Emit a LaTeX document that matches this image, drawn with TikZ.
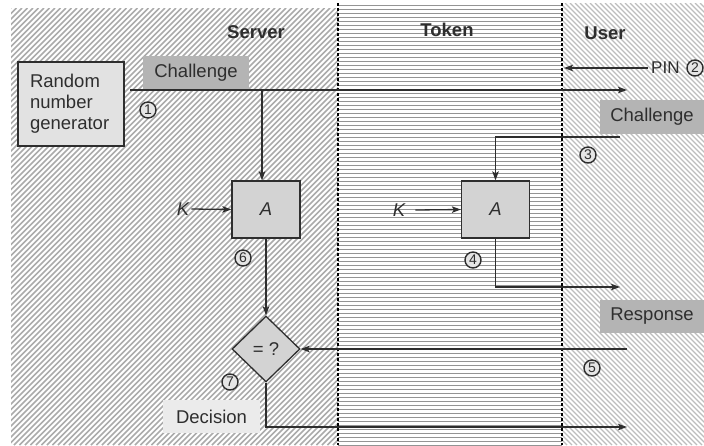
\documentclass[tikz,border=0pt]{standalone}
\usepackage{fontspec}
\setmainfont{Liberation Sans}
\usetikzlibrary{arrows.meta,shapes.geometric}

\definecolor{ink}{HTML}{2E2E2E}
\definecolor{labelgray}{HTML}{B4B4B4}
\definecolor{boxgray}{HTML}{D3D3D3}
\definecolor{rnggray}{HTML}{E2E2E2}
\definecolor{decgray}{HTML}{EBEBEB}

\tikzset{
  lbl/.style={font=\fontsize{18.5}{21}\selectfont, text=ink},
  title/.style={font=\fontsize{18.5}{21}\selectfont\bfseries, text=ink},
  graylabel/.style={lbl, fill=labelgray, inner sep=0pt},
  funcbox/.style={lbl, draw=ink, line width=1.3pt, fill=boxgray, inner sep=0pt,
                  minimum width=68pt, minimum height=57pt, font=\fontsize{18.5}{21}\selectfont\itshape},
  conn/.style={draw=ink, line width=1.3pt, -{Stealth[length=9pt,width=6.5pt,inset=2pt]}},
  num/.style={circle, draw=ink, line width=1.4pt, fill=white!90!black, inner sep=0pt,
              minimum size=16pt, font=\fontsize{14}{14}\selectfont, text=ink},
  border/.style={black, line width=1.2pt, dash pattern=on 3pt off 2pt},
  lefthatch/.style={line width=1.5pt, color=black!33},
  midhatch/.style={line width=1.2pt, color=black!42},
  righthatch/.style={line width=1.3pt, color=black!26},
}

\begin{document}
\begin{tikzpicture}[x=1pt, y=-1pt]
\useasboundingbox (0,0) rectangle (704,445);
\fill[white] (0,0) rectangle (704,445);

% Server zone: diagonal lines rising to the right
\begin{scope}
  \clip (11,8) rectangle (338,445);
  \foreach \i in {0,...,145} {
    \draw[lefthatch] ({-426+5.5*\i},445) -- ++(437,-437);
  }
\end{scope}

% Token zone: horizontal lines on a 4pt pitch
\begin{scope}
  \clip (338,4) rectangle (562,445);
  \foreach \i in {0,...,110} {
    \draw[midhatch] (338,{5.5+4*\i}) -- (562,{5.5+4*\i});
  }
\end{scope}

% User zone: diagonal lines falling to the right
\begin{scope}
  \clip (562,3) rectangle (704,445);
  \foreach \i in {0,...,120} {
    \draw[righthatch] ({120+5*\i},3) -- ++(442,442);
  }
\end{scope}

% Zone borders
\draw[border] (338,3) -- (338,445);
\draw[border] (562,3) -- (562,445);

% Zone titles
\node[title] (tserver) at (256,32) {Server};
\node[title] (ttoken) at (447,30) {Token};
\node[title] (tuser) at (605,33) {User};

% Server side blocks
\node[lbl, draw=ink, line width=1.3pt, fill=rnggray, minimum width=106pt, minimum height=84pt,
      inner sep=0pt, text width=82pt, align=left] (rng) at (71,104) {Random\\number\\generator};
\node[graylabel, minimum width=106pt, minimum height=34pt] (chal1) at (196,72.5) {Challenge};
\node[funcbox] (A1) at (266,209.5) {A};
\node[lbl, font=\fontsize{18.5}{21}\selectfont\itshape, inner sep=2pt] (k1) at (183,209) {K};
\node[diamond, draw=ink, line width=1.3pt, fill=boxgray, inner sep=0pt, aspect=1,
      minimum width=68pt, minimum height=66pt, lbl] (eq) at (266,349) {= ?};
\node[lbl, fill=decgray, inner sep=0pt, minimum width=97pt, minimum height=33pt] (dec) at (211.5,416.5) {Decision};

% Token blocks
\node[funcbox] (A2) at (495.5,209.5) {A};
\node[lbl, font=\fontsize{18.5}{21}\selectfont\itshape, inner sep=2pt] (k2) at (399,210) {K};

% User side labels
\node[graylabel, minimum width=104pt, minimum height=34pt] (chal2) at (652,117) {Challenge};
\node[graylabel, minimum width=104pt, minimum height=33pt] (resp) at (652,316.5) {Response};
\node[lbl, anchor=west, inner sep=0pt, font=\fontsize{17}{20}\selectfont] (pin) at (651,68) {PIN};

% Step markers
\node[num] (n1) at (148,110) {1};
\node[num] (n2) at (695,68) {2};
\node[num] (n3) at (588,155) {3};
\node[num] (n4) at (473,260) {4};
\node[num] (n5) at (592,368) {5};
\node[num] (n6) at (243,258) {6};
\node[num] (n7) at (230,382) {7};

% Connector end points
\coordinate (chalStart) at (130,90);
\coordinate (chalEnd) at (627,90);
\coordinate (branch) at (262,90);
\coordinate (pinStart) at (648,68);
\coordinate (pinEnd) at (564,68);
\coordinate (chalIn) at (620,137);
\coordinate (respOut) at (620,287);
\coordinate (respIn) at (627,349);
\coordinate (decOut) at (627,427);

% Challenge flow
\draw[conn] (chalStart) -- (chalEnd);
\draw[conn] (branch) -- (branch |- A1.north);
\draw[conn] (pinStart) -- (pinEnd);
\draw[conn] (chalIn) -| (A2.north);

% Keys
\draw[conn] (k1.east) -- (A1.west);
\draw[conn] ([xshift=8pt]k2.east) -- (A2.west);

% Response flow
\draw[conn] (A2.south) |- (respOut);
\draw[conn] (respIn) -- (eq.east);
\draw[conn] (A1.south) -- (eq.north);
\draw[conn] (eq.south) |- (decOut);
\end{tikzpicture}
\end{document}
